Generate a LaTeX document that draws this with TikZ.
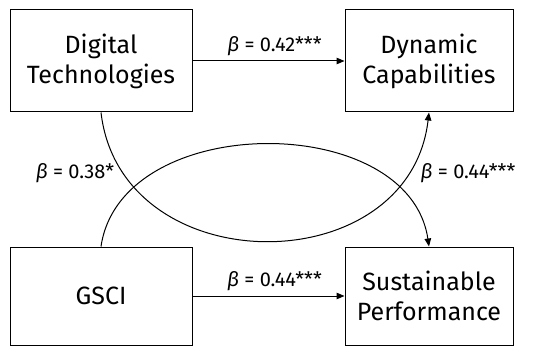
\documentclass[tikz,border=0pt]{standalone}
\usepackage{fontspec}
\setmainfont{Fira Sans}
\usetikzlibrary{arrows.meta}

\begin{document}
\begin{tikzpicture}[x = 1pt, y = 1pt,
    box/.style = {draw, line width=1pt, align=center, font=\fontsize{25}{30}\selectfont},
    coef/.style = {font=\fontsize{20}{24}\selectfont},
    path/.style = {line width=1pt, -{Triangle[length=8pt, width=6.5pt]}}]

    \useasboundingbox (0,0) rectangle (550,357);

    % Variabili
    \node[box, minimum width=182pt, minimum height=102pt] (dt) at (101,296) {Digital\\Technologies};
    \node[box, minimum width=168pt, minimum height=102pt] (dc) at (429,296) {Dynamic\\Capabilities};
    \node[box, minimum width=182pt, minimum height=98pt] (gs) at (101,61) {GSCI};
    \node[box, minimum width=168pt, minimum height=98pt] (sp) at (429,61) {Sustainable\\Performance};

    % Frecce dirette
    \draw[path] (dt) -- node[coef, above=1pt, xshift=6pt] (b1) {\textit{β} = 0.42***} (dc);
    \draw[path] (gs) -- node[coef, above=1pt, xshift=6pt] (b2) {\textit{β} = 0.44***} (sp);

    % Archi
    \draw[path] (dt.south) .. controls +(20,-171) and +(-20,-171) .. (dc.south);
    \draw[path] (gs.north) .. controls +(20,136) and +(-20,136) .. (sp.north);

    % Coefficienti sugli archi
    \node[coef] (b3) at (75,184) {\textit{β} = 0.38*};
    \node[coef] (b4) at (468,184) {\textit{β} = 0.44***};

\end{tikzpicture}
\end{document}
